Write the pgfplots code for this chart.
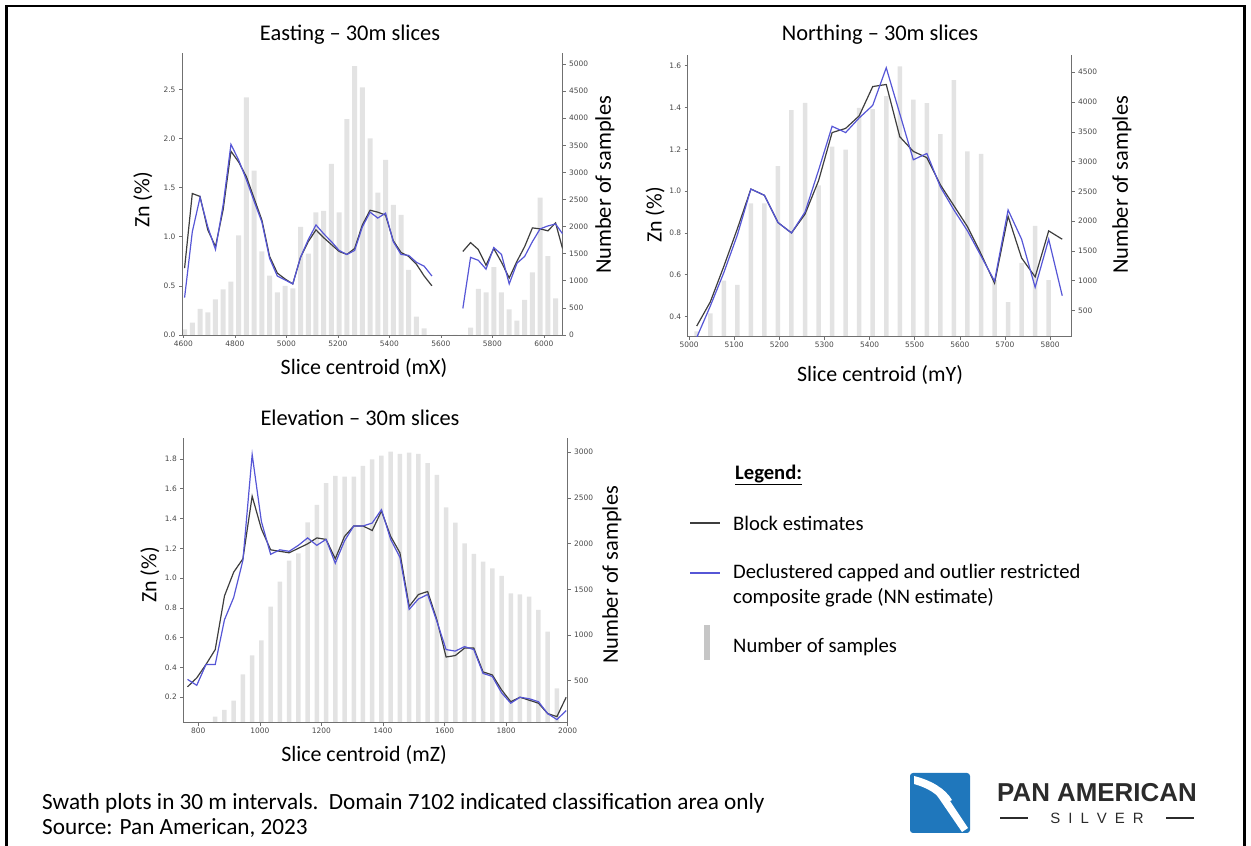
\documentclass[border=0pt]{standalone}
\usepackage{pgfplots}
\pgfplotsset{compat=1.18}
\usepackage{pgfplotstable}
\usepackage{fontspec}
\setmainfont{Carlito}
\newfontfamily\tickfont{DejaVu Sans}
\newfontfamily\logofont{Liberation Sans}

\definecolor{spine}{HTML}{707070}
\definecolor{ticktext}{HTML}{484848}
\definecolor{barcol}{HTML}{E3E3E3}
\definecolor{legbar}{HTML}{C6C6C6}
\definecolor{blockcol}{HTML}{3E3E3E}
\definecolor{nncol}{HTML}{5656D6}
\definecolor{logoblue}{HTML}{1F77BC}
\definecolor{logotext}{HTML}{2B2B2B}

% Easting swath: slice centre, sample count, block grade, NN grade
\pgfplotstableread{
x n blk nn
4605 105 0.68 0.38
4635 228 1.44 1.05
4665 480 1.41 1.40
4695 418 1.07 1.10
4725 658 0.90 0.87
4755 843 1.28 1.33
4785 984 1.87 1.94
4815 1839 1.76 1.78
4845 4385 1.61 1.58
4875 3032 1.39 1.36
4905 1544 1.17 1.15
4935 1095 0.80 0.78
4965 787 0.63 0.60
4995 904 0.57 0.56
5025 860 0.52 0.52
5055 1993 0.79 0.79
5085 1500 0.95 0.97
5115 2263 1.07 1.12
5145 2288 0.99 1.03
5175 3155 0.92 0.95
5205 2263 0.85 0.86
5235 3985 0.82 0.82
5265 4963 0.88 0.86
5295 4570 1.12 1.10
5325 3628 1.27 1.25
5355 2626 1.25 1.19
5385 3229 1.22 1.24
5415 2400 0.96 0.95
5445 2214 0.84 0.82
5475 1200 0.80 0.81
5505 338 0.72 0.74
5535 123 0.60 0.70
5565 0 0.50 0.60
5595 0 nan nan
5625 0 nan nan
5655 0 nan nan
5685 0 0.85 0.27
5715 135 0.94 0.79
5745 850 0.87 0.76
5775 787 0.71 0.67
5805 1250 0.88 0.89
5835 787 0.74 0.82
5865 474 0.58 0.52
5895 264 0.75 0.73
5925 646 0.90 0.80
5955 1156 1.09 0.95
5985 2534 1.08 1.08
6015 1457 1.06 1.11
6045 676 1.14 1.13
6072 0 0.88 1.03
}\easting

% Northing swath
\pgfplotstableread{
x n blk nn
5017 150 0.355 0.30
5047 450 0.47 0.45
5077 1000 0.64 0.61
5107 928 0.82 0.79
5137 2300 1.01 1.01
5167 2300 0.98 0.98
5197 2925 0.85 0.85
5227 3865 0.80 0.80
5257 3988 0.89 0.90
5287 2600 1.05 1.10
5317 3250 1.28 1.31
5347 3200 1.30 1.28
5377 3900 1.36 1.35
5407 3880 1.50 1.41
5437 4100 1.51 1.59
5467 4600 1.26 1.37
5497 4040 1.19 1.15
5527 3980 1.16 1.18
5557 3460 1.03 1.02
5587 4370 0.93 0.91
5617 3170 0.83 0.81
5647 3130 0.70 0.69
5677 1010 0.56 0.57
5707 640 0.88 0.91
5737 1300 0.68 0.77
5767 1920 0.59 0.54
5797 1010 0.81 0.77
5827 0 0.77 0.50
}\northing

% Elevation swath
\pgfplotstableread{
x n blk nn
765 0 0.27 0.32
795 0 0.33 0.28
825 0 0.42 0.42
855 106 0.52 0.42
885 180 0.88 0.72
915 281 1.04 0.87
945 570 1.13 1.12
975 777 1.55 1.83
1005 942 1.33 1.38
1035 1310 1.19 1.16
1065 1584 1.18 1.19
1095 1814 1.17 1.18
1125 1894 1.20 1.22
1155 2234 1.23 1.27
1185 2423 1.27 1.22
1215 2661 1.26 1.26
1245 2741 1.13 1.10
1275 2734 1.28 1.25
1305 2734 1.35 1.35
1335 2850 1.35 1.35
1365 2923 1.32 1.37
1395 2963 1.45 1.46
1425 3007 1.28 1.26
1455 2982 1.17 1.14
1485 2996 0.81 0.79
1515 2982 0.89 0.86
1545 2880 0.91 0.89
1575 2752 0.72 0.71
1605 2398 0.47 0.52
1635 2230 0.48 0.51
1665 2004 0.53 0.54
1695 1887 0.53 0.52
1725 1803 0.37 0.36
1755 1730 0.35 0.34
1785 1646 0.25 0.23
1815 1456 0.17 0.16
1845 1445 0.20 0.20
1875 1420 0.18 0.19
1905 1274 0.16 0.17
1935 1036 0.09 0.09
1965 416 0.07 0.05
1995 0 0.20 0.11
}\elevation

\pgfplotsset{
  swath/.style={
    scale only axis, anchor=south west,
    axis line style={spine, line width=0.9bp},
    every tick/.style={spine, line width=0.6bp},
    tick align=outside, major tick length=3bp,
    ticklabel style={font=\tickfont\fontsize{7.5}{8}\selectfont, text=ticktext},
    xticklabel style={yshift=1bp},
    scaled ticks=false,
    /pgf/number format/assume math mode=true,
    /pgf/number format/1000 sep={},
  },
  countax/.style={swath, hide x axis, axis y line*=right, ytick pos=right},
  gradeax/.style={swath, axis x line*=bottom, axis y line*=left,
    unbounded coords=jump,
    yticklabel style={/pgf/number format/.cd, fixed, fixed zerofill, precision=1}},
  blockline/.style={blockcol, line width=1.2bp},
  nnline/.style={nncol, line width=1.2bp},
  counts/.style={ybar, fill=barcol, draw=none},
}

\begin{document}
\begin{tikzpicture}
\path[use as bounding box] (0,0) rectangle (1251bp,846bp);
\draw[line width=2.5bp] (6.5bp,0) -- (6.5bp,840bp) -- (1244.5bp,840bp) -- (1244.5bp,0);

% ---------- Easting ----------
\begin{axis}[countax, at={(182bp,511bp)}, width=380.7bp, height=282bp,
  xmin=4595, xmax=6072.6, ymin=0, ymax=5203, ytick={0,500,...,5000}]
  \addplot[counts, bar width=5bp] table[x=x,y=n]{\easting};
\end{axis}
\begin{axis}[gradeax, at={(182bp,511bp)}, width=380.7bp, height=282bp,
  xmin=4595, xmax=6072.6, ymin=0, ymax=2.87,
  xtick={4600,4800,...,6000}, ytick={0,0.5,...,2.5}]
  \addplot[blockline] table[x=x,y=blk]{\easting};
  \addplot[nnline] table[x=x,y=nn]{\easting};
\end{axis}

% ---------- Northing ----------
\begin{axis}[countax, at={(687.7bp,509.3bp)}, width=384bp, height=281.7bp,
  xmin=4997, xmax=5848, ymin=60, ymax=4790, ytick={500,1000,...,4500}]
  \addplot[counts, bar width=4.5bp] table[x=x,y=n]{\northing};
\end{axis}
\begin{axis}[gradeax, at={(687.7bp,509.3bp)}, width=384bp, height=281.7bp,
  xmin=4997, xmax=5848, ymin=0.304, ymax=1.651,
  xtick={5000,5100,...,5800}, ytick={0.4,0.6,...,1.6}]
  \addplot[blockline] table[x=x,y=blk]{\northing};
  \addplot[nnline] table[x=x,y=nn]{\northing};
\end{axis}

% ---------- Elevation ----------
\begin{axis}[countax, at={(183.3bp,123.3bp)}, width=384.4bp, height=284.4bp,
  xmin=751.3, xmax=2000, ymin=40, ymax=3153, ytick={500,1000,...,3000}]
  \addplot[counts, bar width=4.5bp] table[x=x,y=n]{\elevation};
\end{axis}
\begin{axis}[gradeax, at={(183.3bp,123.3bp)}, width=384.4bp, height=284.4bp,
  xmin=751.3, xmax=2000, ymin=0.029, ymax=1.939,
  xtick={800,1000,...,2000}, ytick={0.2,0.4,...,1.8}]
  \addplot[blockline] table[x=x,y=blk]{\elevation};
  \addplot[nnline] table[x=x,y=nn]{\elevation};
\end{axis}

% ---------- titles and axis labels ----------
\begin{scope}[every node/.style={font=\fontsize{22.5}{26}\selectfont, inner sep=0pt}]
  \node at (350bp,811bp) {Easting – 30m slices};
  \node at (880bp,811bp) {Northing – 30m slices};
  \node at (360bp,428bp) {Elevation – 30m slices};
  \node[font=\fontsize{22}{26}\selectfont] at (364bp,478bp) {Slice centroid (mX)};
  \node[font=\fontsize{22}{26}\selectfont] at (880bp,471bp) {Slice centroid (mY)};
  \node[font=\fontsize{22}{26}\selectfont] at (364bp,91bp) {Slice centroid (mZ)};
  \node[rotate=90, font=\fontsize{22}{26}\selectfont] at (143bp,646bp) {Zn (\%)};
  \node[rotate=90, font=\fontsize{22}{26}\selectfont] at (655bp,631bp) {Zn (\%)};
  \node[rotate=90, font=\fontsize{22}{26}\selectfont] at (150bp,271bp) {Zn (\%)};
  \node[rotate=90, font=\fontsize{22.5}{26}\selectfont] at (605bp,661bp) {Number of samples};
  \node[rotate=90, font=\fontsize{22.5}{26}\selectfont] at (1122bp,661bp) {Number of samples};
  \node[rotate=90, font=\fontsize{22.5}{26}\selectfont] at (612bp,271bp) {Number of samples};
\end{scope}

% ---------- legend ----------
\begin{scope}[every node/.style={font=\fontsize{20.7}{26}\selectfont, inner sep=0pt, anchor=west}]
  \node[font=\bfseries\fontsize{20.7}{26}\selectfont] at (735bp,371bp) {\underline{Legend:}};
  \draw[blockcol, line width=1.6bp] (690bp,323bp) -- (720bp,323bp);
  \node at (733bp,323bp) {Block estimates};
  \draw[nncol, line width=1.6bp] (690bp,273bp) -- (720bp,273bp);
  \node at (733bp,273bp) {Declustered capped and outlier restricted};
  \node at (733bp,248bp) {composite grade (NN estimate)};
  \fill[legbar] (704bp,186bp) rectangle (710bp,221bp);
  \node at (733bp,199bp) {Number of samples};
\end{scope}

% ---------- footer ----------
\begin{scope}[every node/.style={font=\fontsize{23.3}{26}\selectfont, inner sep=0pt, anchor=west}]
  \node at (42bp,43bp) {Swath plots in 30 m intervals.\ \ Domain 7102 indicated classification area only};
  \node at (42bp,18bp) {Source: Pan American, 2023};
\end{scope}

% ---------- logo ----------
\fill[logoblue, rounded corners=3bp] (910bp,13bp) rectangle (970bp,73bp);
\fill[white] (914bp,70bp) .. controls (930bp,66bp) and (945bp,58bp) .. (952bp,46bp)
  -- (944bp,42bp) .. controls (938bp,52bp) and (928bp,58bp) .. (914bp,62bp) -- cycle;
\fill[white] (936bp,52bp) -- (942bp,57bp) -- (968bp,18bp) -- (962bp,14bp) -- cycle;
\node[font=\logofont\bfseries\fontsize{26}{28}\selectfont, text=logotext, inner sep=0pt]
  at (1097bp,53bp) {PAN AMERICAN};
\draw[logotext, line width=1.2bp] (1000bp,28bp) -- (1028bp,28bp);
\draw[logotext, line width=1.2bp] (1166bp,28bp) -- (1194bp,28bp);
\node[font=\logofont\fontsize{15}{18}\selectfont, text=logotext, inner sep=0pt]
  at (1097bp,28bp) {S\hspace{8bp}I\hspace{8bp}L\hspace{8bp}V\hspace{8bp}E\hspace{8bp}R};
\end{tikzpicture}
\end{document}
